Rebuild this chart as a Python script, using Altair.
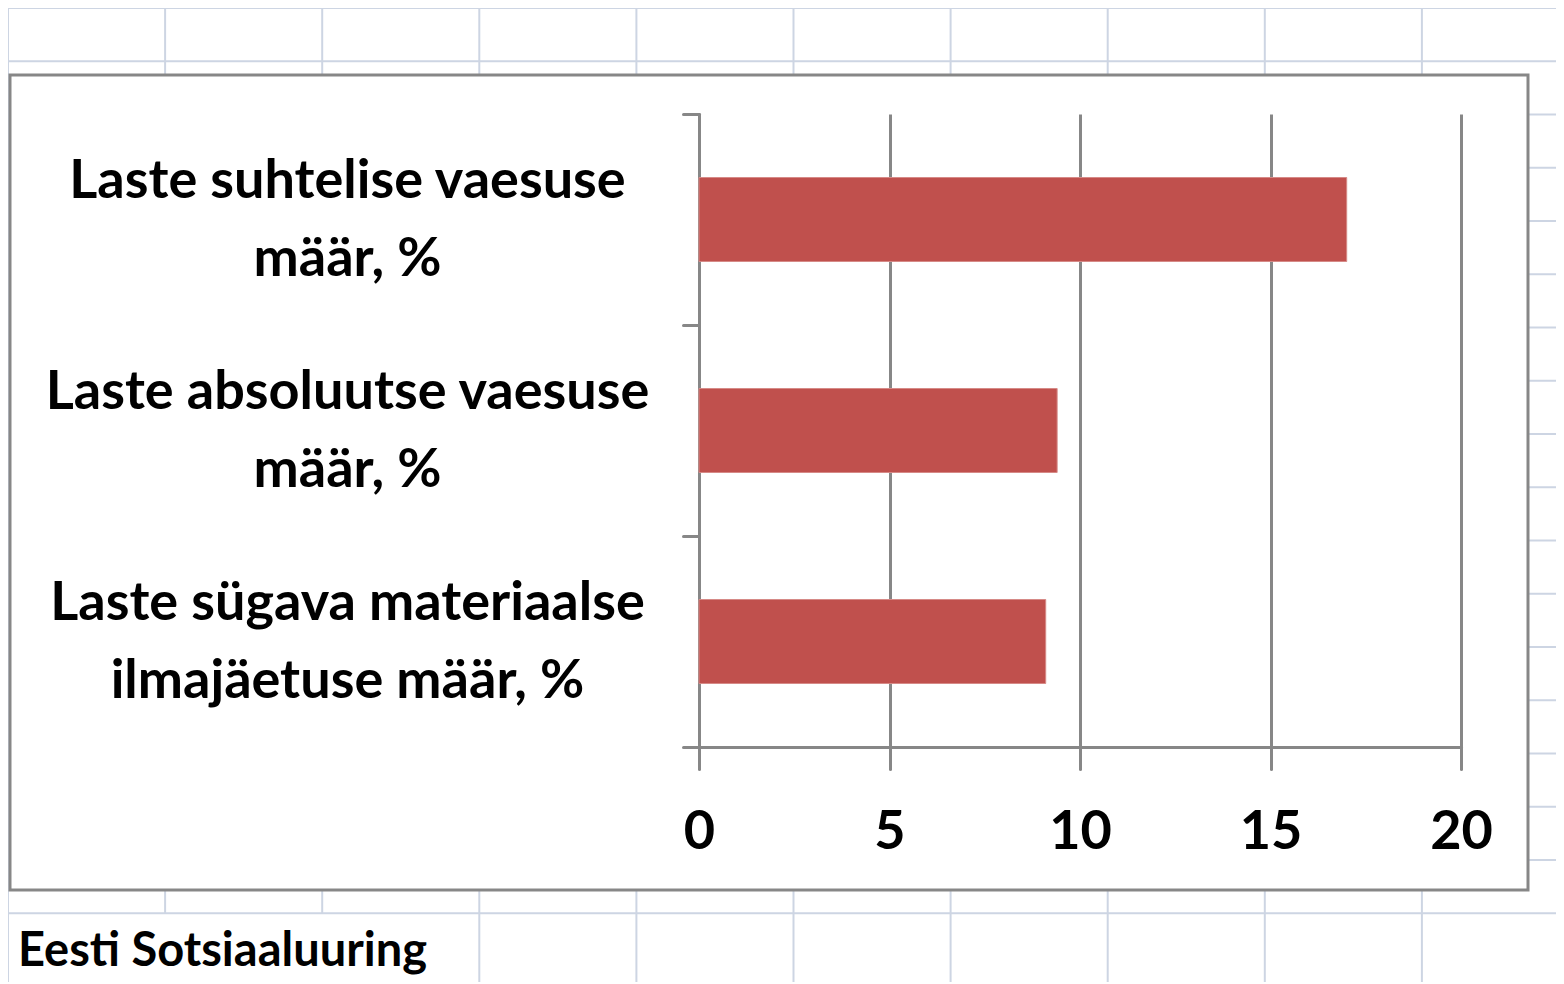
import altair as alt
import pandas as pd

# ---- data ----
categories = [
    "Laste suhtelise vaesuse|määr, %",
    "Laste absoluutse vaesuse|määr, %",
    "Laste sügava materiaalse|ilmajäetuse määr, %",
]
values = [17.0, 9.4, 9.1]
x_ticks = [0, 5, 10, 15, 20]
source_note = ["Eesti Sotsiaaluuring"]

df = pd.DataFrame({"cat": categories, "val": values})

# ---- layout helpers (page pixel -> plot pixel) ----
OX, OY = 699, 114
def px(x):
    return x - OX
def py(y):
    return y - OY

GRID = "#CDD5E3"
AXC = "#878787"
FONT = "Lato"
one = alt.Data(values=[{"k": 0}])

def hline(y, x1, x2):
    return alt.Chart(one).mark_rule(color=GRID, strokeWidth=2).encode(
        x=alt.value(px(x1)), x2=alt.value(px(x2)), y=alt.value(py(y)))

def vline(x, y1, y2):
    return alt.Chart(one).mark_rule(color=GRID, strokeWidth=2).encode(
        x=alt.value(px(x)), y=alt.value(py(y1)), y2=alt.value(py(y2)))

BOX_L, BOX_R, BOX_T, BOX_B = 10, 1528, 75, 890
COL_W, ROW_H = 157.1, 53.25
decor = []
for i in range(10):
    x = 8 + COL_W * i
    if i == 0:
        decor.append(vline(x, 8, 984))
    else:
        decor.append(vline(x, 8, BOX_T))
        decor.append(vline(x, BOX_B, 913 if i in (1, 2) else 984))
for k in range(18):
    y = 8 + ROW_H * k
    if k in (0, 1, 17):
        decor.append(hline(y, 8, 1564))
    else:
        decor.append(hline(y, BOX_R, 1564))

box = alt.Chart(one).mark_rect(fillOpacity=0, stroke=AXC, strokeWidth=3).encode(
    x=alt.value(px(BOX_L)), x2=alt.value(px(BOX_R)),
    y=alt.value(py(BOX_T)), y2=alt.value(py(BOX_B)))

bars = alt.Chart(df).mark_bar(color="#C0504D", size=84, stroke="#D68A87", strokeWidth=1).encode(
    y=alt.Y("cat:N", sort=None,
            scale=alt.Scale(paddingInner=0, paddingOuter=0),
            axis=alt.Axis(title=None, grid=False, domainColor=AXC, domainWidth=3,
                          domainCap="round", tickColor=AXC, tickWidth=3, tickSize=16,
                          tickCap="round", tickBand="extent",
                          labelFont=FONT, labelFontWeight="bold", labelFontSize=54,
                          labelColor="black", labelAlign="center", labelBaseline="middle",
                          labelPadding=336, labelLimit=0, labelLineHeight=78,
                          labelOffset=-38,
                          labelExpr="split(datum.label, '|')")),
    x=alt.X("val:Q",
            scale=alt.Scale(domain=[0, 20], nice=False),
            axis=alt.Axis(title=None, values=x_ticks, grid=True, gridColor=AXC, gridWidth=3,
                          domainColor=AXC, domainWidth=3, domainCap="round",
                          tickColor=AXC, tickWidth=3, tickSize=22, tickCap="round",
                          labelFont=FONT, labelFontWeight="bold", labelFontSize=54,
                          labelColor="black", labelPadding=36, labelFlush=False)),
)

note = alt.Chart(alt.Data(values=[{"t": s} for s in source_note])).mark_text(
    align="left", baseline="alphabetic", font=FONT, fontWeight="bold", fontSize=47,
    color="black").encode(x=alt.value(px(18)), y=alt.value(py(966)), text="t:N")

chart = alt.layer(*decor, box, bars, note).properties(
    width=762, height=633,
    autosize=alt.AutoSizeParams(type="none"),
    padding={"left": 691, "top": 106, "right": 95, "bottom": 235},
    background="white",
).configure_view(stroke=None)

chart.save("out.html", embed_options={"renderer": "svg", "actions": False})
